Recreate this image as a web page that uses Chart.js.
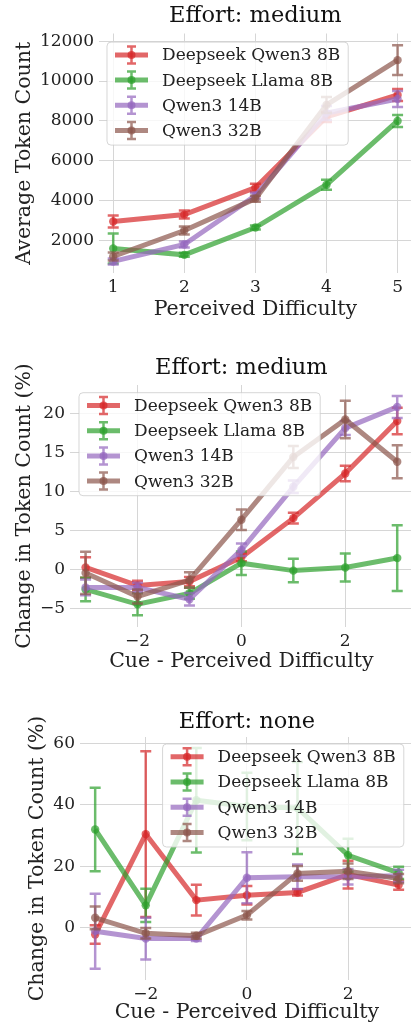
<!DOCTYPE html>
<html>
<head>
<meta charset="utf-8">
<script src="https://cdn.jsdelivr.net/npm/chart.js@4/dist/chart.umd.min.js"></script>
<style>
  html, body { margin: 0; padding: 0; background: #fff; overflow: hidden; width: 411px; height: 1030px; }
  canvas { position: absolute; left: 0; }
</style>
</head>
<body>
<canvas id="avgChart" width="416" height="325" style="top:0px"></canvas>
<canvas id="mediumChart" width="417" height="340" style="top:335px"></canvas>
<canvas id="noneChart" width="418" height="345" style="top:685px"></canvas>
<script>
// --- data ---
const seriesNames = ['Deepseek Qwen3 8B', 'Deepseek Llama 8B', 'Qwen3 14B', 'Qwen3 32B'];
const seriesColors = ['rgba(214,39,40,0.7)', 'rgba(44,160,44,0.7)', 'rgba(148,103,189,0.7)', 'rgba(140,86,75,0.7)'];

const difficulty = [1, 2, 3, 4, 5];
const cueDiff = [-3, -2, -1, 0, 1, 2, 3];

// Average token count vs perceived difficulty (effort: medium)
const avgQwen8 = [2950, 3300, 4650, 8200, 9300];
const avgQwen8Err = [300, 200, 200, 250, 300];
const avgLlama8 = [1600, 1280, 2650, 4800, 8000];
const avgLlama8Err = [750, 100, 100, 250, 300];
const avgQwen14 = [950, 1800, 4250, 8400, 9100];
const avgQwen14Err = [150, 150, 150, 350, 400];
const avgQwen32 = [1200, 2500, 4100, 8800, 11050];
const avgQwen32Err = [200, 200, 150, 400, 750];

// Change in token count (%), effort: medium
const medQwen8 = [0.3, -2.0, -1.5, 1.6, 6.6, 12.3, 19.0];
const medQwen8Err = [1.3, 0.6, 0.6, 0.5, 0.7, 1.0, 1.7];
const medLlama8 = [-2.5, -4.4, -3.0, 0.85, -0.1, 0.3, 1.5];
const medLlama8Err = [1.5, 1.4, 0.7, 1.5, 1.5, 1.8, 4.2];
const medQwen14 = [-2.25, -2.25, -3.75, 2.55, 10.6, 18.1, 20.8];
const medQwen14Err = [1.0, 0.6, 0.8, 0.8, 0.8, 0.9, 1.4];
const medQwen32 = [-0.4, -3.4, -1.3, 6.4, 14.4, 19.2, 13.8];
const medQwen32Err = [2.7, 0.9, 1.0, 1.3, 1.4, 2.4, 2.1];

// Change in token count (%), effort: none
const noneQwen8 = [-2.2, 30.5, 9.0, 10.6, 11.5, 17.3, 13.9];
const noneQwen8Err = [3.0, 27.0, 5.0, 3.0, 1.0, 4.5, 1.5];
const noneLlama8 = [32.0, 7.3, 41.5, 39.5, 39.0, 23.6, 17.9];
const noneLlama8Err = [13.6, 5.4, 17.0, 11.0, 15.0, 5.4, 2.0];
const noneQwen14 = [-1.1, -3.5, -3.5, 16.3, 16.6, 16.6, 16.9];
const noneQwen14Err = [12.2, 6.8, 0.8, 8.3, 4.0, 2.5, 2.0];
const noneQwen32 = [3.25, -1.8, -2.6, 4.1, 17.7, 18.4, 16.0];
const noneQwen32Err = [3.7, 1.7, 1.0, 1.4, 2.4, 2.5, 1.5];

// tick labels
const avgXTicks = [1, 2, 3, 4, 5];
const avgYTicks = [2000, 4000, 6000, 8000, 10000, 12000];
const cueXTicks = [-2, 0, 2];
const medYTicks = [-5, 0, 5, 10, 15, 20];
const noneYTicks = [0, 20, 40, 60];

const FONT = '"DejaVu Serif", "Liberation Serif", serif';
const TEXT = '#222';

// error bars drawn right after each line so layering follows matplotlib
const errorBars = {
    id: 'errorBars',
    afterDatasetDraw(chart, args) {
        const ds = chart.data.datasets[args.index];
        if (!ds.errors) return;
        const { ctx, chartArea, scales: { x, y } } = chart;
        ctx.save();
        ctx.beginPath();
        ctx.rect(chartArea.left, chartArea.top, chartArea.right - chartArea.left, chartArea.bottom - chartArea.top);
        ctx.clip();
        ctx.strokeStyle = ds.borderColor;
        ctx.lineWidth = 2.5;
        ds.data.forEach((p, i) => {
            const e = ds.errors[i];
            const px = x.getPixelForValue(p.x);
            const top = y.getPixelForValue(p.y + e);
            const bot = y.getPixelForValue(p.y - e);
            ctx.beginPath();
            ctx.moveTo(px, top); ctx.lineTo(px, bot);
            ctx.moveTo(px - 5.5, top); ctx.lineTo(px + 5.5, top);
            ctx.moveTo(px - 5.5, bot); ctx.lineTo(px + 5.5, bot);
            ctx.stroke();
        });
        ctx.restore();
    }
};

// matplotlib-like legend: errorbar handle, semi transparent frame over the data
const errLegend = {
    id: 'errLegend',
    afterDraw(chart, args, opts) {
        const { ctx, chartArea } = chart;
        const datasets = chart.data.datasets;
        ctx.save();
        ctx.font = '17px ' + FONT;
        const textW = Math.max(...datasets.map(d => ctx.measureText(d.label).width));
        const w = 55 + textW + 8;
        const h = 103;
        const left = opts.side === 'right' ? chartArea.right - opts.inset - w : chartArea.left + opts.inset;
        const top = chartArea.top + opts.top;

        ctx.beginPath();
        ctx.roundRect(left, top, w, h, 4);
        ctx.fillStyle = 'rgba(255,255,255,0.8)';
        ctx.fill();
        ctx.strokeStyle = 'rgba(204,204,204,0.8)';
        ctx.lineWidth = 1;
        ctx.stroke();

        datasets.forEach((d, i) => {
            const cy = top + 12.8 + i * 25.2;
            const x0 = left + 8, x1 = left + 41, cx = (x0 + x1) / 2;
            ctx.strokeStyle = d.borderColor;
            ctx.lineWidth = 5;
            ctx.beginPath(); ctx.moveTo(x0, cy); ctx.lineTo(x1, cy); ctx.stroke();
            ctx.lineWidth = 2.5;
            ctx.beginPath();
            ctx.moveTo(cx, cy - 8.5); ctx.lineTo(cx, cy + 8.5);
            ctx.moveTo(cx - 4.5, cy - 8.5); ctx.lineTo(cx + 4.5, cy - 8.5);
            ctx.moveTo(cx - 4.5, cy + 8.5); ctx.lineTo(cx + 4.5, cy + 8.5);
            ctx.stroke();
            ctx.fillStyle = d.borderColor;
            ctx.beginPath(); ctx.arc(cx, cy, 4, 0, Math.PI * 2); ctx.fill();
            ctx.fillStyle = TEXT;
            ctx.textBaseline = 'middle';
            ctx.fillText(d.label, left + 55, cy + 1);
        });
        ctx.restore();
    }
};

function fmtTick(v) {
    return v < 0 ? '\u2212' + Math.abs(v) : String(v);
}

function buildDatasets(xs, values, errors) {
    // red at the bottom, brown on top, as in the figure
    return values.map((vals, i) => ({
        label: seriesNames[i],
        data: xs.map((x, j) => ({ x, y: vals[j] })),
        errors: errors[i],
        borderColor: seriesColors[i],
        backgroundColor: seriesColors[i],
        borderWidth: 5,
        pointRadius: 4.2,
        pointBorderWidth: 0,
        pointHoverRadius: 4.2,
        order: values.length - 1 - i
    }));
}

function makeChart(id, cfg) {
    return new Chart(document.getElementById(id), {
        type: 'line',
        data: { datasets: buildDatasets(cfg.xs, cfg.values, cfg.errors) },
        options: {
            responsive: false,
            animation: false,
            layout: { padding: 0 },
            plugins: {
                legend: { display: false },
                tooltip: { enabled: false },
                title: {
                    display: true,
                    text: cfg.title,
                    fullSize: false,
                    color: '#111',
                    font: { family: FONT, size: 22.5, weight: 'normal', lineHeight: 1.2 },
                    padding: cfg.titlePad
                },
                errLegend: cfg.legend
            },
            scales: {
                x: {
                    type: 'linear',
                    min: cfg.xMin, max: cfg.xMax,
                    afterBuildTicks: s => { s.ticks = cfg.xTicks.map(v => ({ value: v })); },
                    afterFit: s => { s.height = cfg.xHeight; },
                    grid: { color: '#d6d6d6', lineWidth: 1, drawTicks: false },
                    border: { display: false },
                    ticks: {
                        autoSkip: false, maxRotation: 0, padding: 4, color: TEXT,
                        font: { family: FONT, size: 17 },
                        callback: fmtTick
                    },
                    title: {
                        display: true, text: cfg.xTitle, color: TEXT,
                        font: { family: FONT, size: 20.5 },
                        padding: { top: 0, bottom: cfg.xTitlePad }
                    }
                },
                y: {
                    type: 'linear',
                    min: cfg.yMin, max: cfg.yMax,
                    afterBuildTicks: s => { s.ticks = cfg.yTicks.map(v => ({ value: v })); },
                    afterFit: s => { s.width = cfg.yWidth; },
                    grid: { color: '#d6d6d6', lineWidth: 1, drawTicks: false },
                    border: { display: false },
                    ticks: {
                        padding: 5, color: TEXT,
                        font: { family: FONT, size: 17 },
                        callback: fmtTick
                    },
                    title: {
                        display: true, text: cfg.yTitle, color: TEXT,
                        font: { family: FONT, size: 20.5 },
                        padding: { top: cfg.yTitlePad, bottom: 0 }
                    }
                }
            }
        },
        plugins: [errorBars, errLegend]
    });
}

makeChart('avgChart', {
    title: 'Effort: medium',
    titlePad: { top: 3, bottom: 3.5 },
    xs: difficulty,
    values: [avgQwen8, avgLlama8, avgQwen14, avgQwen32],
    errors: [avgQwen8Err, avgLlama8Err, avgQwen14Err, avgQwen32Err],
    xMin: 0.8, xMax: 5.2, xTicks: avgXTicks, xHeight: 52, xTitlePad: 2.7,
    yMin: 370, yMax: 12385, yTicks: avgYTicks, yWidth: 99, yTitlePad: 12.7,
    xTitle: 'Perceived Difficulty',
    yTitle: 'Average Token Count',
    legend: { side: 'left', inset: 8, top: 8.6 }
});

makeChart('mediumChart', {
    title: 'Effort: medium',
    titlePad: { top: 19.5, bottom: 3.5 },
    xs: cueDiff,
    values: [medQwen8, medLlama8, medQwen14, medQwen32],
    errors: [medQwen8Err, medLlama8Err, medQwen14Err, medQwen32Err],
    xMin: -3.3, xMax: 3.3, xTicks: cueXTicks, xHeight: 48, xTitlePad: 0.7,
    yMin: -7.3, yMax: 23.6, yTicks: medYTicks, yWidth: 70, yTitlePad: 12.7,
    xTitle: 'Cue - Perceived Difficulty',
    yTitle: 'Change in Token Count (%)',
    legend: { side: 'left', inset: 9, top: 7.7 }
});

makeChart('noneChart', {
    title: 'Effort: none',
    titlePad: { top: 23.5, bottom: 1.5 },
    xs: cueDiff,
    values: [noneQwen8, noneLlama8, noneQwen14, noneQwen32],
    errors: [noneQwen8Err, noneLlama8Err, noneQwen14Err, noneQwen32Err],
    xMin: -3.3, xMax: 3.3, xTicks: cueXTicks, xHeight: 50, xTitlePad: 4.7,
    yMin: -17, yMax: 62.1, yTicks: noneYTicks, yWidth: 80, yTitlePad: 25.7,
    xTitle: 'Cue - Perceived Difficulty',
    yTitle: 'Change in Token Count (%)',
    legend: { side: 'right', inset: 10, top: 7 }
});
</script>
</body>
</html>
